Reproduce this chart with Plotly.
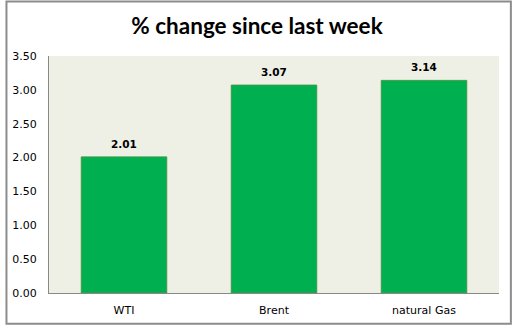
import plotly.graph_objects as go

categories = ["WTI", "Brent", "natural Gas"]
values = [2.01, 3.07, 3.14]
tick_vals = [0, 0.5, 1.0, 1.5, 2.0, 2.5, 3.0, 3.5]
tick_text = ["0.00", "0.50", "1.00", "1.50", "2.00", "2.50", "3.00", "3.50"]

W, H = 514, 329
ML, MR, MT, MB = 44, 15, 56, 34
pw, ph = W - ML - MR, H - MT - MB

fig = go.Figure(go.Bar(
    x=categories,
    y=values,
    marker=dict(color="#00B050", line=dict(color="#3F9B46", width=1)),
    width=0.57,
))

# value labels above each bar
for c, v in zip(categories, values):
    fig.add_annotation(x=c, y=v, text=f"<b>{v:.2f}</b>", showarrow=False,
                       yanchor="bottom", yshift=5,
                       font=dict(family="DejaVu Sans", size=10.5, color="#000000"))

# outer chart border
fig.add_shape(type="rect", xref="paper", yref="paper",
              x0=-(ML - 1) / pw, x1=1 + (MR - 3) / pw,
              y0=-(MB - 3) / ph, y1=1 + (MT - 1) / ph,
              line=dict(color="#8C8C8C", width=2), fillcolor="rgba(0,0,0,0)", layer="below")

fig.update_layout(
    width=W, height=H,
    margin=dict(l=ML, r=MR, t=MT, b=MB),
    paper_bgcolor="#FFFFFF",
    plot_bgcolor="#EEF0E6",
    title=dict(text="<b>% change since last week</b>", x=0.5, xref="container", xanchor="center",
               y=1 - 26 / H, yanchor="middle",
               font=dict(family="Lato", size=22.5, color="#000000")),
    showlegend=False,
    bargap=0.43,
)
fig.update_xaxes(showgrid=False, showline=True, linecolor="#888888", linewidth=1,
                 ticks="", tickfont=dict(family="DejaVu Sans", size=11, color="#000000"),
                 ticklabelstandoff=7)
fig.update_yaxes(range=[0, 3.5], tickvals=tick_vals, ticktext=tick_text, showgrid=False,
                 zeroline=False, showline=True, linecolor="#888888", linewidth=1,
                 ticks="", tickfont=dict(family="DejaVu Sans", size=11, color="#000000"),
                 ticklabelstandoff=9)

fig.write_html("out.html")
